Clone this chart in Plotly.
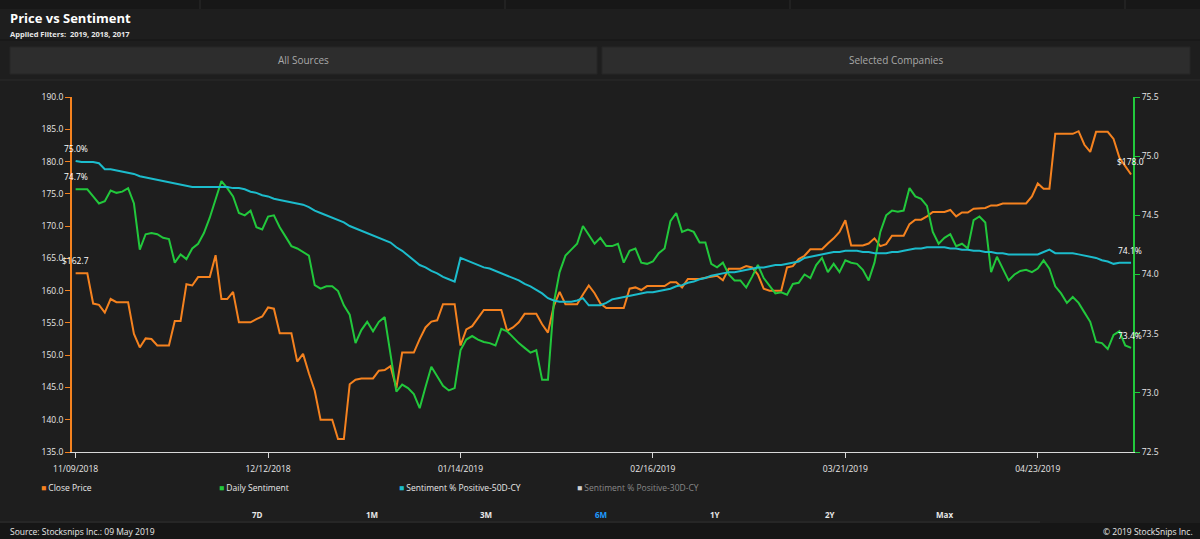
import pandas as pd
import plotly.graph_objects as go

start_date = "2018-11-09"
close_price = [162.7, 162.7, 162.7, 158.0, 157.8, 156.6, 158.7, 158.2, 158.2, 158.2,
               153.3, 151.2, 152.6, 152.5, 151.5, 151.5, 151.5, 155.3, 155.3, 161.0,
               160.8, 162.1, 162.1, 162.1, 165.5, 158.7, 158.7, 159.8, 155.1, 155.1,
               155.1, 155.6, 156.0, 157.4, 157.2, 153.4, 153.4, 153.4, 149.0, 150.2,
               147.2, 144.5, 140.0, 140.0, 140.0, 137.0, 137.0, 145.5, 146.2, 146.4,
               146.4, 146.4, 147.6, 147.7, 148.3, 144.9, 150.4, 150.4, 150.4, 152.5,
               154.3, 155.2, 155.4, 157.9, 157.9, 157.9, 151.5, 154.0, 154.5, 155.8,
               157.0, 157.0, 157.0, 157.0, 153.8, 154.3, 155.1, 156.4, 156.4, 156.4,
               154.8, 153.5, 157.6, 159.8, 157.9, 157.9, 157.9, 159.4, 160.8, 159.6,
               158.0, 157.3, 157.3, 157.3, 157.3, 160.3, 160.5, 160.1, 160.7, 160.7,
               160.7, 160.7, 161.3, 161.3, 160.5, 161.8, 161.8, 161.8, 162.0, 162.2,
               162.3, 161.6, 163.4, 163.4, 163.4, 163.8, 163.6, 162.5, 160.3, 160.0,
               160.0, 160.0, 163.6, 163.8, 164.9, 165.4, 166.4, 166.4, 166.4, 167.3,
               168.1, 169.1, 170.9, 167.0, 167.0, 167.0, 167.3, 168.1, 166.9, 167.2,
               168.5, 168.5, 168.5, 170.3, 171.0, 171.0, 171.5, 172.2, 172.2, 172.2,
               172.5, 171.5, 172.1, 172.1, 172.7, 172.8, 172.8, 173.2, 173.2, 173.5,
               173.5, 173.5, 173.5, 173.5, 174.6, 176.6, 175.8, 175.8, 184.3, 184.3,
               184.3, 184.3, 184.7, 182.6, 181.5, 184.6, 184.6, 184.6, 183.5, 180.6,
               179.3, 178.0]
daily_sentiment = [74.72, 74.72, 74.72, 74.66, 74.60, 74.62, 74.71, 74.69, 74.70, 74.73,
                   74.60, 74.21, 74.34, 74.35, 74.34, 74.31, 74.30, 74.10, 74.17, 74.13,
                   74.22, 74.26, 74.35, 74.48, 74.63, 74.79, 74.73, 74.66, 74.52, 74.50,
                   74.54, 74.40, 74.38, 74.49, 74.50, 74.40, 74.32, 74.24, 74.22, 74.19,
                   74.16, 73.91, 73.88, 73.90, 73.90, 73.86, 73.74, 73.66, 73.42, 73.53,
                   73.60, 73.52, 73.60, 73.64, 73.33, 73.01, 73.07, 73.04, 72.99, 72.87,
                   73.05, 73.22, 73.14, 73.06, 73.02, 73.04, 73.36, 73.45, 73.48, 73.45,
                   73.43, 73.42, 73.40, 73.54, 73.52, 73.47, 73.42, 73.38, 73.34, 73.36,
                   73.11, 73.11, 73.76, 74.02, 74.16, 74.21, 74.26, 74.41, 74.34, 74.26,
                   74.31, 74.24, 74.24, 74.26, 74.10, 74.20, 74.22, 74.10, 74.09, 74.11,
                   74.18, 74.22, 74.45, 74.52, 74.36, 74.38, 74.36, 74.27, 74.27, 74.09,
                   74.06, 74.10, 74.00, 73.95, 73.95, 73.89, 73.98, 74.08, 73.97, 73.90,
                   73.84, 73.85, 73.83, 73.92, 73.93, 74.00, 73.97, 74.08, 74.14, 74.02,
                   74.09, 74.02, 74.12, 74.10, 74.09, 74.04, 73.95, 74.10, 74.36, 74.50,
                   74.54, 74.53, 74.54, 74.73, 74.66, 74.64, 74.58, 74.36, 74.26, 74.31,
                   74.34, 74.24, 74.26, 74.22, 74.46, 74.49, 74.44, 74.02, 74.15, 74.05,
                   73.95, 74.00, 74.03, 74.04, 74.02, 74.05, 74.12, 74.05, 73.90, 73.84,
                   73.76, 73.81, 73.76, 73.68, 73.60, 73.43, 73.42, 73.37, 73.49, 73.52,
                   73.40, 73.38]
positive_50d = [74.96, 74.95, 74.95, 74.95, 74.94, 74.89, 74.89, 74.88, 74.87, 74.86,
                74.85, 74.83, 74.82, 74.81, 74.80, 74.79, 74.78, 74.77, 74.76, 74.75,
                74.74, 74.74, 74.74, 74.74, 74.74, 74.74, 74.74, 74.73, 74.73, 74.72,
                74.70, 74.69, 74.67, 74.66, 74.64, 74.63, 74.62, 74.61, 74.60, 74.59,
                74.57, 74.54, 74.52, 74.50, 74.48, 74.46, 74.44, 74.41, 74.39, 74.37,
                74.35, 74.33, 74.31, 74.29, 74.27, 74.23, 74.20, 74.16, 74.12, 74.08,
                74.06, 74.03, 74.01, 73.98, 73.96, 73.94, 74.14, 74.12, 74.10, 74.08,
                74.06, 74.05, 74.03, 74.01, 73.99, 73.97, 73.95, 73.92, 73.90, 73.87,
                73.84, 73.80, 73.78, 73.77, 73.77, 73.77, 73.78, 73.80, 73.74, 73.74,
                73.74, 73.76, 73.79, 73.80, 73.81, 73.82, 73.83, 73.84, 73.85, 73.85,
                73.86, 73.87, 73.88, 73.90, 73.91, 73.93, 73.94, 73.96, 73.97, 73.99,
                74.00, 74.01, 74.02, 74.02, 74.03, 74.04, 74.05, 74.06, 74.06, 74.07,
                74.08, 74.08, 74.09, 74.10, 74.11, 74.14, 74.15, 74.16, 74.17, 74.18,
                74.19, 74.19, 74.20, 74.20, 74.20, 74.19, 74.19, 74.18, 74.18, 74.18,
                74.19, 74.19, 74.20, 74.21, 74.22, 74.22, 74.23, 74.23, 74.23, 74.23,
                74.22, 74.22, 74.21, 74.21, 74.20, 74.20, 74.19, 74.19, 74.18, 74.18,
                74.17, 74.17, 74.17, 74.17, 74.17, 74.17, 74.19, 74.21, 74.18, 74.18,
                74.18, 74.18, 74.17, 74.16, 74.15, 74.14, 74.12, 74.11, 74.09, 74.10,
                74.10, 74.10]
tick_dates = ["2018-11-09", "2018-12-12", "2019-01-14", "2019-02-16", "2019-03-21", "2019-04-23"]
legend_names = ["Close Price", "Daily Sentiment", "Sentiment % Positive-50D-CY", "Sentiment % Positive-30D-CY"]
range_buttons = ["7D", "1M", "3M", "6M", "1Y", "2Y", "Max"]

dates = pd.date_range(start_date, periods=len(close_price), freq="D")
ORANGE = "#f5821f"
GREEN = "#22c83c"
CYAN = "#1cbccc"
BG = "#1e1e1e"
FONT = "Open Sans"

# plot area in pixels
L, R, T, B = 72, 1133, 97, 452
W, H = 1200, 539


def px(x):
    return (x - L) / (R - L)


def py(y):
    return (B - y) / (B - T)


fig = go.Figure()
fig.add_trace(go.Scatter(x=dates, y=close_price, name=legend_names[0], mode="lines",
                         line=dict(color=ORANGE, width=2), yaxis="y"))
fig.add_trace(go.Scatter(x=dates, y=daily_sentiment, name=legend_names[1], mode="lines",
                         line=dict(color=GREEN, width=2), yaxis="y2"))
fig.add_trace(go.Scatter(x=dates, y=positive_50d, name=legend_names[2], mode="lines",
                         line=dict(color=CYAN, width=2), yaxis="y2"))

shapes = []
ann = []


def text(x, y, s, size, color, xanchor="center"):
    ann.append(dict(xref="paper", yref="paper", x=px(x), y=py(y), text=s, showarrow=False,
                    xanchor=xanchor, yanchor="middle", font=dict(family=FONT, size=size, color=color)))


# header / buttons / footer
shapes.append(dict(type="rect", xref="paper", yref="paper", x0=px(0), x1=px(W), y0=py(0), y1=py(9),
                   fillcolor="#171717", line_width=0, layer="below"))
for xd in [200, 505, 790, 1125]:
    shapes.append(dict(type="line", xref="paper", yref="paper", x0=px(xd), x1=px(xd), y0=py(0), y1=py(9),
                       line=dict(color="#2c2c2c", width=1)))
shapes.append(dict(type="line", xref="paper", yref="paper", x0=px(0), x1=px(W), y0=py(40), y1=py(40),
                   line=dict(color="#151515", width=1)))
for bx0, bx1, label in [(10, 597, "All Sources"), (602, 1190, "Selected Companies")]:
    shapes.append(dict(type="rect", xref="paper", yref="paper", x0=px(bx0), x1=px(bx1), y0=py(47), y1=py(74),
                       fillcolor="#2d2d2d", line=dict(color="#262626", width=1), layer="below"))
    text((bx0 + bx1) / 2, 60, label, 10, "#a8a8a8")
shapes.append(dict(type="line", xref="paper", yref="paper", x0=px(0), x1=px(W), y0=py(80), y1=py(80),
                   line=dict(color="#2a2a2a", width=1)))
shapes.append(dict(type="line", xref="paper", yref="paper", x0=px(0), x1=px(1040), y0=py(522), y1=py(522),
                   line=dict(color="#2e2e2e", width=1)))
shapes.append(dict(type="rect", xref="paper", yref="paper", x0=px(0), x1=px(W), y0=py(523), y1=py(H),
                   fillcolor="#161616", line_width=0, layer="below"))

text(8, 18, "<b>Price vs Sentiment</b>", 13, "#ffffff", "left")
text(8, 34, "<b>Applied Filters:  2019, 2018, 2017</b>", 7.5, "#e8e8e8", "left")

# legend row
legend_colors = [ORANGE, GREEN, CYAN, "#d0d0d0"]
legend_x = [39, 217, 397, 575]
for name, col, lx in zip(legend_names, legend_colors, legend_x):
    text(lx, 487, "<span style='color:%s'>■</span> %s" % (col, name), 8.5,
         "#888888" if name.endswith("30D-CY") else "#e8e8e8", "left")

# range selector row
for i, label in enumerate(range_buttons):
    text(257 + i * 114.5, 514, "<b>%s</b>" % label, 8, "#1e9bff" if label == "6M" else "#e8e8e8")

text(8, 531, "Source: Stocksnips Inc.: 09 May 2019", 8.5, "#e8e8e8", "left")
text(1195, 531, "© 2019 StockSnips Inc.", 8.5, "#e8e8e8", "right")

# first / last value labels
lab_font = dict(family=FONT, size=8.5, color="#ffffff")
value_labels = [
    (0, close_price, "y", "$%.1f"), (0, daily_sentiment, "y2", "%.1f%%"), (0, positive_50d, "y2", "%.1f%%"),
    (-1, close_price, "y", "$%.1f"), (-1, daily_sentiment, "y2", "%.1f%%"), (-1, positive_50d, "y2", "%.1f%%"),
]
for idx, series, yr, fmt in value_labels:
    ann.append(dict(x=dates[idx], y=series[idx], xref="x", yref=yr, text=fmt % series[idx], showarrow=False,
                    xanchor="center", yanchor="middle", yshift=12.5, xshift=-1 if idx == -1 else 0, font=lab_font))

tick_text = [pd.Timestamp(d).strftime("%m/%d/%Y") for d in tick_dates]
fig.update_layout(
    width=W, height=H,
    margin=dict(l=L, r=W - R, t=T, b=H - B),
    paper_bgcolor=BG, plot_bgcolor=BG,
    showlegend=False,
    font=dict(family=FONT, size=9, color="#e8e8e8"),
    xaxis=dict(range=[dates[0] - pd.Timedelta(hours=15), dates[-1] + pd.Timedelta(hours=8)],
               tickvals=tick_dates, ticktext=tick_text, showgrid=False, zeroline=False,
               showline=True, linecolor="#d8d8d8", linewidth=1, ticks="outside", ticklen=5,
               tickcolor="#d8d8d8", tickfont=dict(size=8.5, color="#e8e8e8"), ticklabelstandoff=4),
    yaxis=dict(range=[135, 190], dtick=5, tickformat=".1f", showgrid=False, zeroline=False,
               showline=True, linecolor=ORANGE, linewidth=2, ticks="outside", ticklen=5,
               tickcolor=ORANGE, tickfont=dict(size=8.5, color="#e8e8e8")),
    yaxis2=dict(range=[72.5, 75.5], dtick=0.5, tickformat=".1f", overlaying="y", side="right",
                showgrid=False, zeroline=False, showline=True, linecolor=GREEN, linewidth=2,
                ticks="outside", ticklen=5, tickcolor=GREEN, tickfont=dict(size=8.5, color="#e8e8e8")),
    shapes=shapes,
    annotations=ann,
)
fig.write_html("out.html", config={"displayModeBar": False},
               post_script="document.body.style.margin='0';document.body.style.background='%s';" % BG)
